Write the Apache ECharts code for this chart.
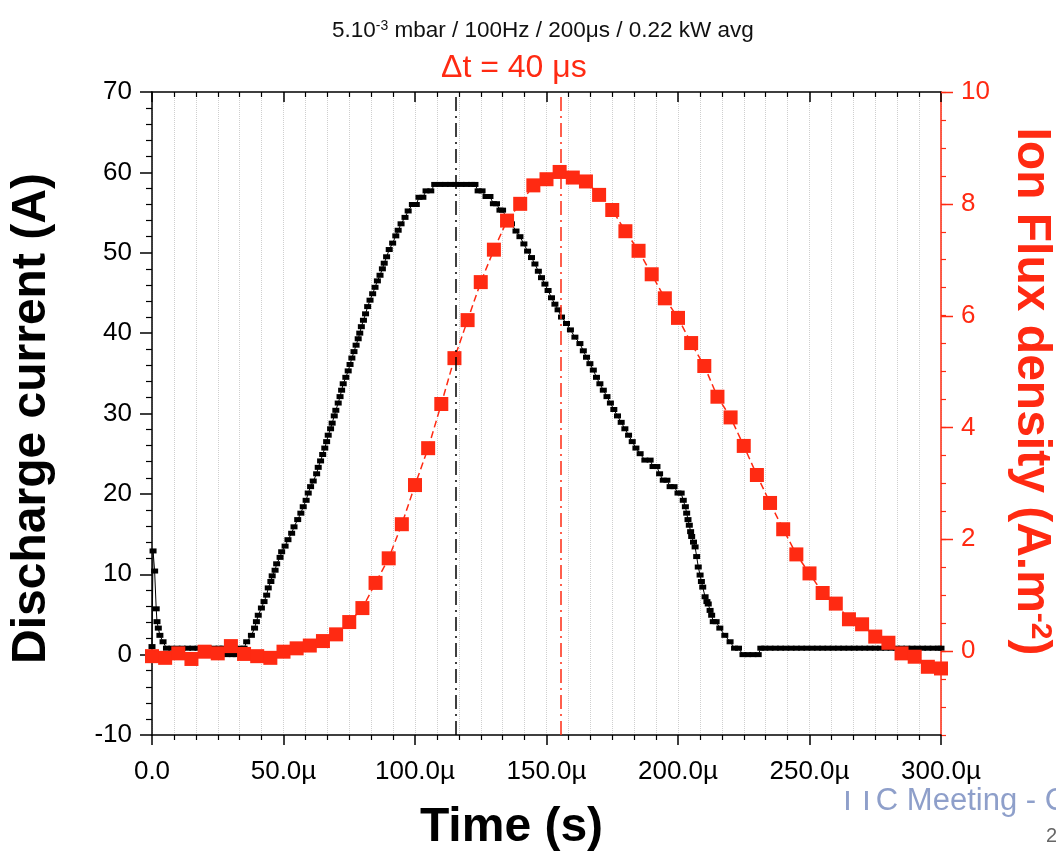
<!DOCTYPE html>
<html>
<head>
<meta charset="utf-8">
<script src="https://cdn.jsdelivr.net/npm/echarts@6/dist/echarts.min.js"></script>
<style>
html,body{margin:0;padding:0;background:#fff;}
#chart{width:1056px;height:853px;}
</style>
</head>
<body>
<div id="chart"></div>
<script>
// ---- Data ----
var xTickLabels = ['0.0', '50.0\u00b5', '100.0\u00b5', '150.0\u00b5', '200.0\u00b5', '250.0\u00b5', '300.0\u00b5'];
var fluxTickValues = [0, 2, 4, 6, 8, 10];

// Discharge current (A) vs time (µs)
var currentTime = [
  0, 0.4, 1.0, 1.6, 1.9, 2.4, 3.0, 4.2, 5.5, 7.5, 9.5, 11.5, 13.5, 15.5, 17.5, 19.5, 21.5, 23.5, 25.5, 27,
  28.5, 30.5, 32, 33.5, 35,
  36, 37.8, 39, 39.7, 40.4, 41.6, 42.6, 43.6, 44.2, 45.2, 45.7, 46.8, 47.4, 48.7, 49.3, 50.6, 51.7, 53.1, 54,
  55.4, 56.6, 57.5, 58.6, 59.4, 60.3, 61.3, 62.6, 63.2, 64.1, 64.9, 65.7, 66.4, 67, 67.9, 68.5, 69.3, 69.9,
  70.8, 71.5, 72.1, 72.7, 73.7, 74.6, 75.3, 76, 76.8, 77.6, 78.4, 79, 79.6, 80.4, 81.2, 82, 82.9, 83.9, 84.8,
  85.7, 86.7, 87.6, 88.3, 89.2, 90.2, 91.5, 92.7, 93.6, 94.7, 96.2, 97.4, 99, 100.5, 101.5, 103, 104.2, 106,
  107.5, 109.5, 111.5, 113.5, 115.5, 117.5, 119.5, 121.5, 122.8,
  124, 125.5, 127, 128.5, 129.8, 131, 132.3, 133.3, 134.5, 135.5, 136.7, 138.4, 139.9, 141.4, 142.8, 144.3,
  145.6, 146.9, 148.1, 149.4, 150.6, 151.9, 153.2, 154.4, 155.7, 157.6, 159.1, 160.8, 162.7, 164, 165.2,
  166.5, 167.8, 169, 170.3, 171.6, 173, 174.3, 175.6, 177, 178.4, 179.8, 181.2, 182.6, 184, 185.6, 187.4,
  189.4, 190.5, 192, 193, 194.4, 195.8, 197, 198.5, 200, 201.2, 202, 202.8, 203.3, 203.8, 204.3, 204.8,
  205.2, 205.9, 206.5, 207.1, 207.7, 208.4, 208.9, 209.4, 210.3, 211, 211.5, 212.2, 212.8, 213.4, 214.5,
  215.9, 217.8, 219.8, 221.5, 223, 224.7, 226.5, 228.5, 230.5, 231.5,
  233, 235, 237, 239, 241, 243, 245, 247, 249, 251, 253, 255, 257, 259, 261, 263, 265, 267, 269, 271, 273,
  275, 277, 279, 281, 283, 285, 287, 289, 291, 293, 295, 297, 299, 300
];
var currentValue = [
  1.0, 12.9, 10.4, 5.7, 4.1, 3.3, 2.4, 1.6, 0.8, 0.8, 0.8, 0.8, 0.8, 0.8, 0.8, 0.8, 0.8, 0.8, 0.8, 0.8,
  0, 0, 0, 0.8, 0.8,
  1.6, 2.4, 3.3, 4.1, 4.9, 5.8, 6.6, 7.4, 8.3, 9.1, 9.8, 10.5, 11.3, 12.1, 12.8, 13.5, 14.3, 15.1, 15.9,
  16.8, 17.6, 18.4, 19.2, 20.1, 20.9, 21.6, 22.5, 23.3, 24.1, 24.9, 25.7, 26.5, 27.3, 28.1, 28.8, 29.7, 30.4,
  31.3, 32.1, 32.9, 33.7, 34.5, 35.3, 36.1, 36.9, 37.7, 38.5, 39.3, 40.0, 40.8, 41.6, 42.4, 43.3, 44.1, 44.9, 45.7,
  46.5, 47.2, 48.0, 48.7, 49.5, 50.4, 51.2, 52.1, 52.8, 53.6, 54.4, 55.2, 56.0, 56.0, 56.9, 56.9, 57.7, 57.7,
  58.5, 58.5, 58.5, 58.5, 58.5, 58.5, 58.5, 58.5, 58.5,
  57.7, 57.7, 57.0, 57.0, 56.1, 56.1, 55.3, 55.3, 54.5, 54.5, 53.6, 52.7, 52.0, 51.1, 50.2, 49.4,
  48.6, 47.7, 46.9, 46.1, 45.3, 44.4, 43.6, 42.9, 42.0, 41.2, 40.4, 39.5, 38.7, 37.8, 37.0,
  36.2, 35.4, 34.5, 33.7, 32.9, 32.1, 31.3, 30.5, 29.7, 28.9, 28.1, 27.3, 26.5, 25.7, 25.0, 24.2,
  24.2, 23.4, 23.4, 22.5, 21.7, 21.7, 20.9, 20.9, 20.1, 20.1, 19.2, 18.4, 17.6, 16.8, 16.1, 15.3,
  14.7, 14.0, 13.4, 12.2, 10.9, 9.9, 9.1, 8.4, 7.2, 6.6, 6.3, 5.5, 4.9, 4.1, 4.1,
  3.3, 2.4, 1.6, 0.8, 0.8, 0, 0, 0, 0, 0.8,
  0.8, 0.8, 0.8, 0.8, 0.8, 0.8, 0.8, 0.8, 0.8, 0.8, 0.8, 0.8, 0.8, 0.8, 0.8, 0.8, 0.8, 0.8, 0.8, 0.8, 0.8,
  0.8, 0.8, 0.8, 0.8, 0.8, 0.8, 0.8, 0.8, 0.8, 0.8, 0.8, 0.8, 0.8, 0.8
];

// Ion flux density (A.m-2) vs time (µs)
var fluxTime = [
  0, 5, 10, 15, 20, 25, 30, 35, 40, 45, 50, 55, 60, 65, 70, 75, 80, 85, 90, 95, 100,
  105, 110, 115, 120, 125, 130, 135, 140, 145, 150, 155, 160, 165, 170, 175, 180, 185, 190, 195, 200,
  205, 210, 215, 220, 225, 230, 235, 240, 245, 250, 255, 260, 265, 270, 275, 280, 285, 290, 295, 300
];
var fluxValue = [
  -0.09, -0.12, -0.04, -0.14, -0.01, -0.04, 0.09, -0.05, -0.09, -0.12, -0.01, 0.05, 0.10, 0.18, 0.30, 0.52, 0.77, 1.22, 1.66, 2.27, 2.97,
  3.63, 4.42, 5.24, 5.92, 6.60, 7.18, 7.70, 8.00, 8.33, 8.44, 8.57, 8.47, 8.40, 8.16, 7.89, 7.51, 7.16, 6.74, 6.31, 5.96,
  5.51, 5.10, 4.55, 4.18, 3.67, 3.15, 2.65, 2.18, 1.73, 1.39, 1.04, 0.85, 0.57, 0.48, 0.26, 0.15, -0.04, -0.10, -0.28, -0.31
];

var currentPeakTime = 115.5;
var fluxPeakTime = 155.5;

// ---- Chart ----
var RED = '#ff2a12';
var FONT = '"Liberation Sans", Arial, sans-serif';

var currentData = currentTime.map(function (t, i) { return [t, currentValue[i]]; });
var fluxData = fluxTime.map(function (t, i) { return [t, fluxValue[i]]; });

var chart = echarts.init(document.getElementById('chart'), null, {renderer: 'canvas'});

var baseGraphic = [
  {type: 'text', id: 'ttc', left: 838, top: 786, z: 1,
   style: {text: 'TTC Meeting - C', fontFamily: FONT, fontSize: 31, fill: '#8e9fca'}},
  {type: 'rect', id: 'ttcmask', shape: {x: 836, y: 784, width: 40, height: 7}, z: 2, style: {fill: '#ffffff'}},
  {type: 'text', id: 'pg', left: 1046, top: 826, z: 1,
   style: {text: '2', fontFamily: FONT, fontSize: 20, fill: '#666'}}
];

chart.setOption({
  animation: false,
  backgroundColor: '#ffffff',
  textStyle: {fontFamily: FONT},
  title: [
    {
      text: '5.10{sup|-3} mbar / 100Hz / 200\u03bcs / 0.22 kW avg',
      left: 327, top: 14,
      textStyle: {
        fontFamily: FONT, fontSize: 22.5, fontWeight: 'normal', color: '#111',
        rich: {sup: {fontFamily: FONT, fontSize: 14, color: '#111', verticalAlign: 'top', padding: [0, 0, 9, 0]}}
      }
    },
    {
      text: '\u0394t = 40 \u03bcs',
      left: 436, top: 47,
      textStyle: {fontFamily: FONT, fontSize: 32, fontWeight: 'normal', color: RED}
    }
  ],
  grid: {left: 152, right: 115, top: 92, bottom: 118, containLabel: false, outerBoundsMode: 'none'},
  xAxis: [
    {
      type: 'value', position: 'bottom', min: 0, max: 300, interval: 50,
      name: 'Time (s)', nameLocation: 'middle', nameGap: 69,
      nameTextStyle: {fontFamily: FONT, fontSize: 48, fontWeight: 'bold', color: '#000', padding: [0, 70, 0, 0]},
      axisLine: {show: true, onZero: false, lineStyle: {color: '#000', width: 1.5}},
      axisTick: {show: true, length: 10, lineStyle: {color: '#000', width: 1.5}},
      minorTick: {show: true, splitNumber: 6, length: 5, lineStyle: {color: '#000', width: 1.2}},
      axisLabel: {
        fontFamily: FONT, fontSize: 26, color: '#000', margin: 24,
        formatter: function (v) { return xTickLabels[Math.round(v / 50)]; }
      },
      splitLine: {show: true, lineStyle: {color: '#cfcfcf', type: 'dotted', width: 1}},
      minorSplitLine: {show: true, lineStyle: {color: '#cfcfcf', type: 'dotted', width: 1}}
    },
    {
      type: 'value', position: 'top', min: 0, max: 300, interval: 50,
      axisLine: {show: true, onZero: false, lineStyle: {color: '#000', width: 1.5}},
      axisTick: {show: true, inside: true, length: 10, lineStyle: {color: '#000', width: 1.5}},
      minorTick: {show: true, splitNumber: 6, length: 5, lineStyle: {color: '#000', width: 1.2}},
      axisLabel: {show: false},
      splitLine: {show: false}
    }
  ],
  yAxis: [
    {
      type: 'value', position: 'left', min: -10, max: 70, interval: 10,
      name: 'Discharge current (A)', nameLocation: 'middle', nameGap: 96, nameRotate: 90,
      nameTextStyle: {fontFamily: FONT, fontSize: 48, fontWeight: 'bold', color: '#000', padding: [0, 10, 0, 0]},
      axisLine: {show: true, onZero: false, lineStyle: {color: '#000', width: 1.5}},
      axisTick: {show: true, length: 12, lineStyle: {color: '#000', width: 1.5}},
      minorTick: {show: true, splitNumber: 5, length: 6, lineStyle: {color: '#000', width: 1.2}},
      axisLabel: {fontFamily: FONT, fontSize: 26, color: '#000', margin: 20},
      splitLine: {show: false}
    },
    {
      type: 'value', position: 'right', min: -1.5, max: 10, interval: 0.5,
      axisLine: {show: true, onZero: false, lineStyle: {color: RED, width: 1.5}},
      axisTick: {show: true, length: 5, lineStyle: {color: RED, width: 1.2}},
      axisLabel: {show: false},
      splitLine: {show: false}
    },
    {
      type: 'value', position: 'right', min: -1.5, max: 10,
      name: 'Ion Flux density (A.m{sup|-2})', nameLocation: 'middle', nameGap: 66, nameRotate: -90,
      nameTextStyle: {
        fontFamily: FONT, fontSize: 48, fontWeight: 'bold', color: RED, padding: [0, 44, 0, 0],
        rich: {sup: {fontFamily: FONT, fontSize: 30, fontWeight: 'bold', color: RED, verticalAlign: 'top'}}
      },
      axisLine: {show: false},
      axisTick: {show: false},
      axisLabel: {fontFamily: FONT, fontSize: 26, color: RED, margin: 20, customValues: fluxTickValues},
      splitLine: {show: false}
    }
  ],
  series: [
    {
      name: 'Discharge current', type: 'line', xAxisIndex: 0, yAxisIndex: 0,
      data: currentData, showSymbol: true, symbol: 'rect', symbolSize: [7, 5],
      itemStyle: {color: '#000'}, lineStyle: {color: '#000', width: 1},
      markLine: {
        silent: true, symbol: ['none', 'none'], label: {show: false},
        lineStyle: {color: '#000', type: [14, 5, 2, 5], width: 1.5},
        data: [{xAxis: currentPeakTime}]
      },
      z: 2
    },
    {
      name: 'Ion flux density', type: 'line', xAxisIndex: 0, yAxisIndex: 1,
      data: fluxData, showSymbol: true, symbol: 'rect', symbolSize: 14,
      itemStyle: {color: RED}, lineStyle: {color: RED, width: 1.5, type: [7, 4]},
      markLine: {
        silent: true, symbol: ['none', 'none'], label: {show: false},
        lineStyle: {color: RED, type: [14, 5, 2, 5], width: 1.5},
        data: [{xAxis: fluxPeakTime}]
      },
      z: 3
    }
  ],
  graphic: baseGraphic
});

// Major ticks of the red axis, placed through the axis' own scale
var gridRight = chart.convertToPixel({xAxisIndex: 0}, 300);
var majorTicks = fluxTickValues.map(function (v, i) {
  var y = Math.round(chart.convertToPixel({yAxisIndex: 1}, v)) + 0.5;
  return {
    type: 'line', id: 'rtick' + i, z: 5,
    shape: {x1: gridRight, y1: y, x2: gridRight + 12, y2: y},
    style: {stroke: RED, lineWidth: 1.5}
  };
});
chart.setOption({graphic: majorTicks});
</script>
</body>
</html>
